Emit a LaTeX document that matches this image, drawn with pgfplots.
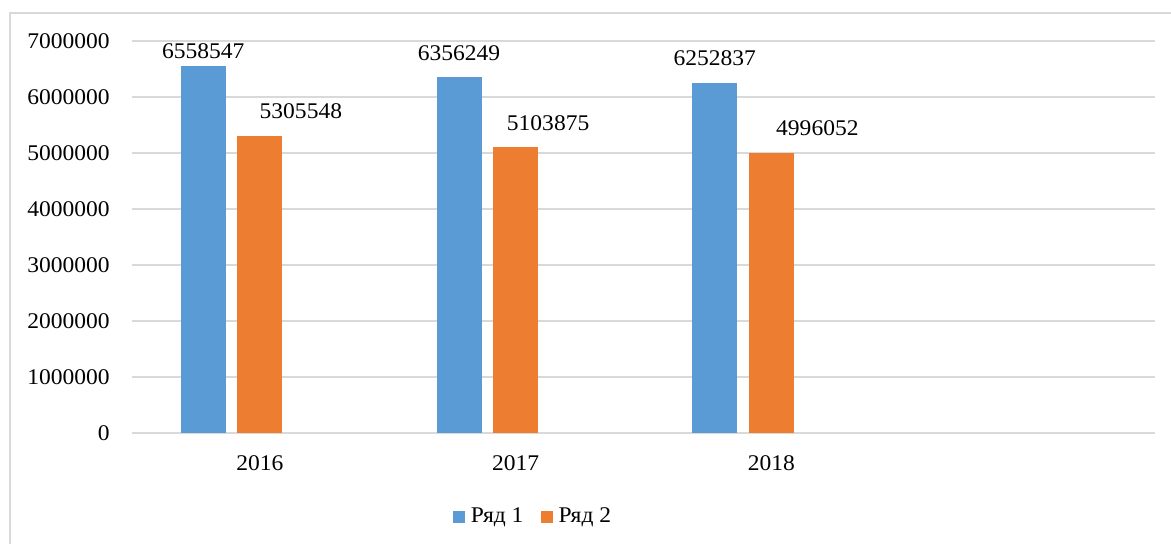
\documentclass[border=0pt]{standalone}
\usepackage{pgfplots}
\pgfplotsset{compat=1.18}
\usepackage{fontspec}
\setmainfont{Liberation Serif}[FakeStretch=1.05]
\definecolor{serA}{HTML}{5B9BD5}
\definecolor{serB}{HTML}{ED7D31}
\definecolor{gridc}{HTML}{D9D9D9}
\pgfplotsset{
  lbl/.style n args={2}{nodes near coords, point meta=explicit symbolic,
    every node near coord/.append style={anchor=south, inner sep=0pt, xshift=#1*0.75pt, yshift=#2*0.75pt, text=black}},
  barA/.style={fill=serA, draw=none, bar shift=-42.4pt, forget plot},
  barB/.style={fill=serB, draw=none, bar shift=0pt, forget plot},
}
\begin{document}
\fontsize{16.8pt}{20pt}\selectfont
\begin{tikzpicture}
\path[use as bounding box] (0,0) rectangle ({1171*0.75pt},{-543*0.75pt});
\draw[gridc, line width=1.1pt] ({10*0.75pt},{-545*0.75pt}) -- ({10*0.75pt},{-13*0.75pt}) -- ({1175*0.75pt},{-13*0.75pt});
\begin{axis}[
  at={({132*0.75pt},{-433*0.75pt})}, anchor=south west,
  scale only axis,
  width={1023*0.75pt}, height={392*0.75pt},
  xmin=-0.5, xmax=3.5,
  ymin=0, ymax=7000000,
  ytick={0,1000000,2000000,3000000,4000000,5000000,6000000,7000000},
  yticklabels={0,1000000,2000000,3000000,4000000,5000000,6000000,7000000},
  xtick={0,1,2},
  xticklabels={2016,2017,2018},
  scaled y ticks=false,
  axis line style={draw=none},
  major tick length=0pt,
  ymajorgrids,
  grid style={gridc, line width=1.5pt},
  yticklabel style={anchor=east, inner sep=0pt, xshift=-16.5pt},
  xticklabel style={anchor=north, inner sep=0pt, yshift=-16.5pt},
  ybar, bar width=33.75pt,
  clip=false,
  legend columns=2,
  legend style={at={(0.391,-0.213)}, anchor=center, draw=none, fill=none,
    nodes={inner sep=0pt},
    /tikz/every odd column/.append style={column sep=4.5pt},
    /tikz/every even column/.append style={column sep=12.75pt}},
  legend image code/.code={\fill[#1] (0pt,-4.5pt) rectangle (9pt,4.5pt);},
]
% Ряд 1
\addplot[barA, lbl={0}{7}] coordinates {(0,6558547) [6558547]};
\addplot[barA, lbl={0}{16}] coordinates {(1,6356249) [6356249]};
\addplot[barA, lbl={0}{17}] coordinates {(2,6252837) [6252837]};
% Ряд 2
\addplot[barB, lbl={41}{17}] coordinates {(0,5305548) [5305548]};
\addplot[barB, lbl={32.5}{16}] coordinates {(1,5103875) [5103875]};
\addplot[barB, lbl={46}{17}] coordinates {(2,4996052) [4996052]};
\addlegendimage{fill=serA, draw=none}
\addlegendentry{Ряд 1}
\addlegendimage{fill=serB, draw=none}
\addlegendentry{Ряд 2}
\end{axis}
\end{tikzpicture}
\end{document}
